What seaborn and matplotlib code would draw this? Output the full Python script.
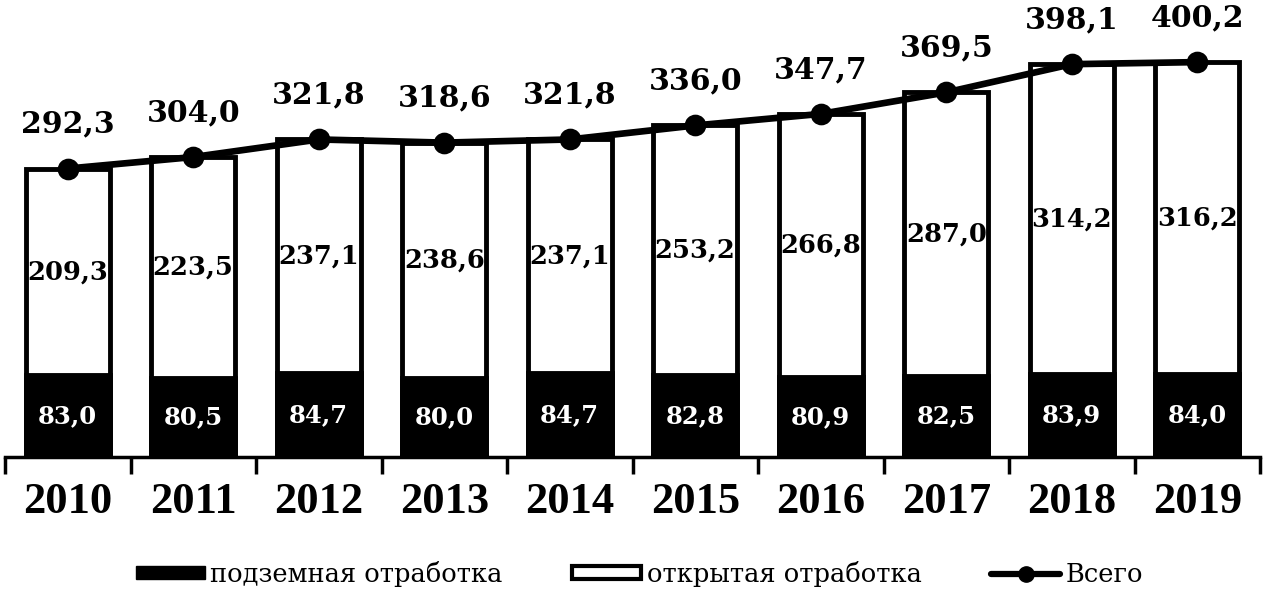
import matplotlib
matplotlib.use("Agg")
import matplotlib.pyplot as plt
import seaborn as sns
import pandas as pd
from matplotlib.patches import Patch
from matplotlib.lines import Line2D

years = ["2010", "2011", "2012", "2013", "2014", "2015", "2016", "2017", "2018", "2019"]
underground = [83.0, 80.5, 84.7, 80.0, 84.7, 82.8, 80.9, 82.5, 83.9, 84.0]
open_pit = [209.3, 223.5, 237.1, 238.6, 237.1, 253.2, 266.8, 287.0, 314.2, 316.2]
total = [292.3, 304.0, 321.8, 318.6, 321.8, 336.0, 347.7, 369.5, 398.1, 400.2]
legend_labels = ["подземная отработка", "открытая отработка", "Всего"]

def fmt(v):
    return f"{v:.1f}".replace(".", ",")

df = pd.DataFrame({"year": years, "under": underground, "open": open_pit, "total": total})
df["stack"] = df["under"] + df["open"]

sns.set_theme(style="white")
plt.rcParams["font.family"] = ["DejaVu Serif"]
plt.rcParams["text.color"] = "black"
plt.rcParams["xtick.color"] = "black"
plt.rcParams["axes.labelcolor"] = "black"

W, H = 1266, 591
fig = plt.figure(figsize=(W / 100, H / 100), dpi=100)
ax = fig.add_axes([5 / W, (H - 457) / H, 1255 / W, 447 / H])

sns.barplot(data=df, x="year", y="stack", color="white", edgecolor="black",
            linewidth=3.5, width=0.67, ax=ax, saturation=1)
sns.barplot(data=df, x="year", y="under", color="black", edgecolor="black",
            linewidth=3.5, width=0.67, ax=ax, saturation=1)
sns.pointplot(data=df, x="year", y="total", color="black", markers="o",
              markersize=12, linewidth=4.8, ax=ax)

for i in range(len(years)):
    ax.text(i, underground[i] / 2, fmt(underground[i]), ha="center", va="center",
            color="white", fontsize=17.5, fontweight="bold", family="DejaVu Serif")
    ax.text(i, underground[i] + open_pit[i] / 2, fmt(open_pit[i]), ha="center", va="center",
            color="black", fontsize=18.5, fontweight="bold", family="DejaVu Serif")
    ax.text(i, total[i] + 45, fmt(total[i]), ha="center", va="center",
            color="black", fontsize=21.5, fontweight="bold", family="DejaVu Serif")

ax.set_xlim(-0.5, len(years) - 0.5)
ax.set_ylim(0, 453)
ax.set_xlabel("")
ax.set_ylabel("")
ax.set_yticks([])
for s in ["left", "right", "top"]:
    ax.spines[s].set_visible(False)
ax.spines["bottom"].set_linewidth(2.5)
ax.spines["bottom"].set_color("black")
ax.set_xticks(range(len(years)))
ax.set_xticklabels(years, fontsize=32, fontweight="bold", family="Liberation Serif",
                   color="black")
ax.tick_params(axis="x", which="major", length=0, pad=18, labelcolor="black")
ax.set_xticks([i - 0.5 for i in range(len(years) + 1)], minor=True)
ax.tick_params(axis="x", which="minor", length=12, width=2.5, color="black", direction="out")
ax.tick_params(axis="x", which="minor", bottom=True)

handles = [
    Patch(facecolor="black", edgecolor="black"),
    Patch(facecolor="white", edgecolor="black", linewidth=3),
    Line2D([0], [0], color="black", lw=4.5, marker="o", markersize=11),
]
fig.legend(handles, legend_labels, loc="center", bbox_to_anchor=(0.505, (H - 574) / H),
           ncol=3, frameon=False, prop={"family": "DejaVu Serif", "size": 18.5},
           labelcolor="black",
           handlelength=2.7, handleheight=0.42, columnspacing=2.7, handletextpad=0.2)

fig.savefig("out.png", dpi=100)
